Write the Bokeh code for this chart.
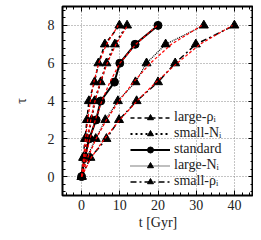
from bokeh.plotting import figure
from bokeh.models import (Range1d, SingleIntervalTicker, LinearAxis, Legend, LegendItem)
from bokeh.embed import file_html
from bokeh.resources import INLINE

# ---- data ----
tau = [0, 1, 2, 3, 4, 5, 6, 7, 8]
large_rho = [0, 0.4, 0.9, 1.4, 1.9, 3.4, 4.4, 6.1, 9.9]
small_N = [0, 0.6, 1.4, 2.6, 3.4, 5.0, 6.5, 8.7, 11.9]
standard = [0, 0.8, 2.0, 3.8, 5.0, 8.6, 10.0, 14.0, 20.0]
large_N = [0, 1.3, 3.7, 6.2, 9.5, 14.1, 17.0, 22.0, 32.0]
small_rho = [0, 2.3, 6.5, 9.8, 14.4, 20.0, 24.5, 29.9, 40.0]

# red dashed fitted curves
fit_large_rho = [0, 0.5, 1.0, 1.6, 2.3, 3.2, 4.5, 6.5, 9.6]
fit_small_N = [0, 0.7, 1.5, 2.4, 3.5, 4.9, 6.7, 9.0, 12.0]
fit_standard = [0, 1.0, 2.2, 3.6, 5.3, 7.4, 10.0, 14.2, 19.8]
fit_large_N = [0, 1.6, 3.8, 6.5, 9.8, 13.6, 18.0, 23.5, 31.5]
fit_small_rho = [0, 2.5, 6.0, 10.0, 14.5, 19.5, 25.0, 31.0, 39.5]

labels = ["large-ρᵢ", "small-Nᵢ", "standard", "large-Nᵢ", "small-ρᵢ"]
x_ticks = [0, 10, 20, 30, 40]
y_ticks = [0, 2, 4, 6, 8]

FONT = "Liberation Serif"

p = figure(width=253, height=232, output_backend="svg", toolbar_location=None,
           x_range=Range1d(-5, 45), y_range=Range1d(-1, 9),
           min_border_left=62, min_border_right=0, min_border_top=6, min_border_bottom=36)
p.background_fill_color = "white"
p.border_fill_color = "white"
p.outline_line_color = "black"
p.outline_line_width = 2

xt = SingleIntervalTicker(interval=10, num_minor_ticks=5)
yt = SingleIntervalTicker(interval=2, num_minor_ticks=5)
p.xaxis.ticker = xt
p.yaxis.ticker = yt
p.xgrid.ticker = xt
p.ygrid.ticker = yt
for g in (p.xgrid, p.ygrid):
    g.grid_line_color = "#888888"
    g.grid_line_dash = "1 2"
    g.grid_line_width = 1

p.xaxis.axis_label = "t [Gyr]"
p.yaxis.axis_label = "τ"

def style_axis(ax):
    ax.axis_line_color = None
    ax.major_tick_in = 5
    ax.major_tick_out = 0
    ax.minor_tick_in = 3
    ax.minor_tick_out = 0
    ax.major_tick_line_color = "black"
    ax.minor_tick_line_color = "black"
    ax.major_tick_line_width = 1
    ax.minor_tick_line_width = 1
    ax.major_label_text_font = FONT
    ax.major_label_text_font_size = "14px"
    ax.major_label_text_color = "#222222"
    ax.axis_label_text_font = FONT
    ax.axis_label_text_font_size = "14px"
    ax.axis_label_text_font_style = "normal"
    ax.axis_label_text_color = "#222222"

for ax in p.xaxis:
    style_axis(ax)
    ax.major_label_standoff = 4
    ax.axis_label_standoff = 2
for ax in p.yaxis:
    style_axis(ax)
    ax.major_label_standoff = 8
    ax.axis_label_standoff = 16

top = LinearAxis(ticker=xt, major_label_overrides={t: "" for t in x_ticks})
style_axis(top)
top.major_label_standoff = 0
top.axis_label_standoff = 0
right = LinearAxis(ticker=yt, major_label_overrides={t: "" for t in y_ticks})
style_axis(right)
right.major_label_standoff = 0
right.axis_label_standoff = 0
p.add_layout(top, "above")
p.add_layout(right, "right")

series = [large_rho, small_N, standard, large_N, small_rho]
fits = [fit_large_rho, fit_small_N, fit_standard, fit_large_N, fit_small_rho]
dashes = ["4 3", "2 3", "solid", "1 1", "6 3 2 3"]
widths = [1.5, 2, 2, 1.2, 1.5]

items = []
for s, d, w, lab in zip(series, dashes, widths, labels):
    ln = p.line(s, tau, line_color="black", line_dash=d, line_width=w)
    if lab == "standard":
        mk = p.scatter(s, tau, marker="circle", size=8, color="black")
    else:
        mk = p.scatter(s, tau, marker="triangle", size=9, color="black")
    items.append(LegendItem(label=lab, renderers=[ln, mk]))

for f in fits:
    p.line(f, tau, line_color="red", line_dash="3 2", line_width=1.2)

legend = Legend(items=items, location=(66, 4))
legend.label_text_font = FONT
legend.label_text_font_size = "14px"
legend.label_text_color = "#222222"
legend.border_line_alpha = 0
legend.background_fill_alpha = 0
legend.glyph_width = 40
legend.glyph_height = 15
legend.label_height = 15
legend.spacing = 0
legend.padding = 2
legend.margin = 0
legend.label_standoff = 4
p.add_layout(legend)

open("out.html", "w").write(file_html(p, INLINE))
